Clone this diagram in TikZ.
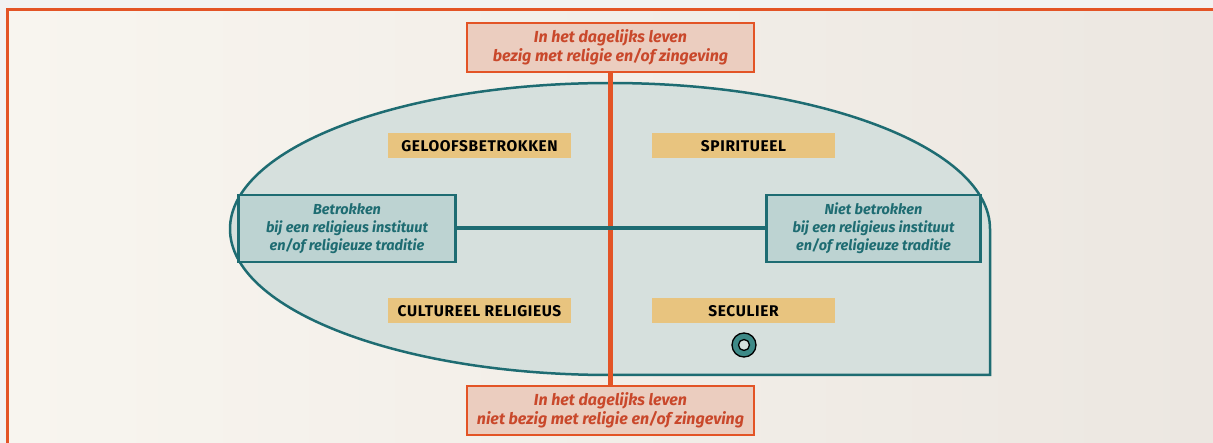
\documentclass[tikz,border=0pt]{standalone}
\usepackage{fontspec}
\setmainfont{Fira Sans}
\usetikzlibrary{calc}

\definecolor{frameorange}{HTML}{E35426}
\definecolor{boxorange}{HTML}{EBCDBF}
\definecolor{textorange}{HTML}{C9482B}
\definecolor{teal}{HTML}{1E6C72}
\definecolor{tealfill}{HTML}{BDD3D2}
\definecolor{areafill}{HTML}{D6E0DD}
\definecolor{labelyellow}{HTML}{E8C47F}
\definecolor{bgleft}{HTML}{F8F5EF}
\definecolor{bgright}{HTML}{ECE7E1}
\definecolor{edgegray}{HTML}{F2F2F2}
\definecolor{markerteal}{HTML}{3E8A87}

\tikzset{
  axisbox/.style={draw=frameorange, line width=2.2pt, fill=boxorange,
    text=textorange, font=\bfseries\itshape\fontsize{16}{19}\selectfont,
    align=center, inner sep=0pt, minimum width=287pt, minimum height=49pt},
  involvebox/.style={draw=teal, line width=2.5pt, fill=tealfill,
    text=teal, font=\bfseries\itshape\fontsize{14.5}{18}\selectfont,
    align=center, inner sep=0pt, minimum height=67pt},
  quadlabel/.style={fill=labelyellow, text=black,
    font=\bfseries\fontsize{15.5}{17}\selectfont\addfontfeatures{LetterSpace=4},
    inner sep=0pt, minimum width=183pt, minimum height=25pt},
  orangeaxis/.style={draw=frameorange, line width=4.5pt},
  tealaxis/.style={draw=teal, line width=4pt},
}

\begin{document}
\begin{tikzpicture}[x=1pt, y=-1pt]
  % canvas and framing
  \useasboundingbox (0,0) rectangle (1213,443);
  \fill[edgegray] (0,0) rectangle (1213,443);
  \shade[left color=bgleft, right color=bgright] (7,10) rectangle (1213,443);
  \draw[frameorange, line width=3pt] (7,443) -- (7,9.7) -- (1213,9.7);

  % region of the population: left half of an ellipse with a square lower right corner
  \draw[teal, line width=2.5pt, fill=areafill]
    (610,375) arc[start angle=90, end angle=360, x radius=380, y radius=146]
    -- (990,375) -- cycle;

  % axis boxes
  \node[axisbox] (top) at (610.5,47.5)
    {In het dagelijks leven\\bezig met religie en/of zingeving};
  \node[axisbox] (bottom) at (610.5,410.5)
    {In het dagelijks leven\\niet bezig met religie en/of zingeving};
  \node[involvebox, minimum width=217pt] (left) at (347,228.5)
    {Betrokken\\bij een religieus instituut\\en/of religieuze traditie};
  \node[involvebox, minimum width=214pt] (right) at (873.5,228.5)
    {Niet betrokken\\bij een religieus instituut\\en/of religieuze traditie};

  % axes
  \draw[orangeaxis] (top.south) -- (bottom.north);
  \draw[tealaxis] (left.east) -- (right.west);

  % quadrant labels
  \node[quadlabel] (q1) at (479.5,146) {GELOOFSBETROKKEN};
  \node[quadlabel] (q2) at (743.5,146) {SPIRITUEEL};
  \node[quadlabel] (q3) at (479.5,311) {CULTUREEL RELIGIEUS};
  \node[quadlabel] (q4) at (743.5,311) {SECULIER};

  % position marker
  \node[circle, draw=black, line width=1.3pt, fill=markerteal,
        minimum size=24pt, inner sep=0pt] (marker) at (744,345) {};
  \node[circle, draw=black, line width=1.3pt, fill=areafill,
        minimum size=11pt, inner sep=0pt] (markercore) at (marker.center) {};
\end{tikzpicture}
\end{document}
